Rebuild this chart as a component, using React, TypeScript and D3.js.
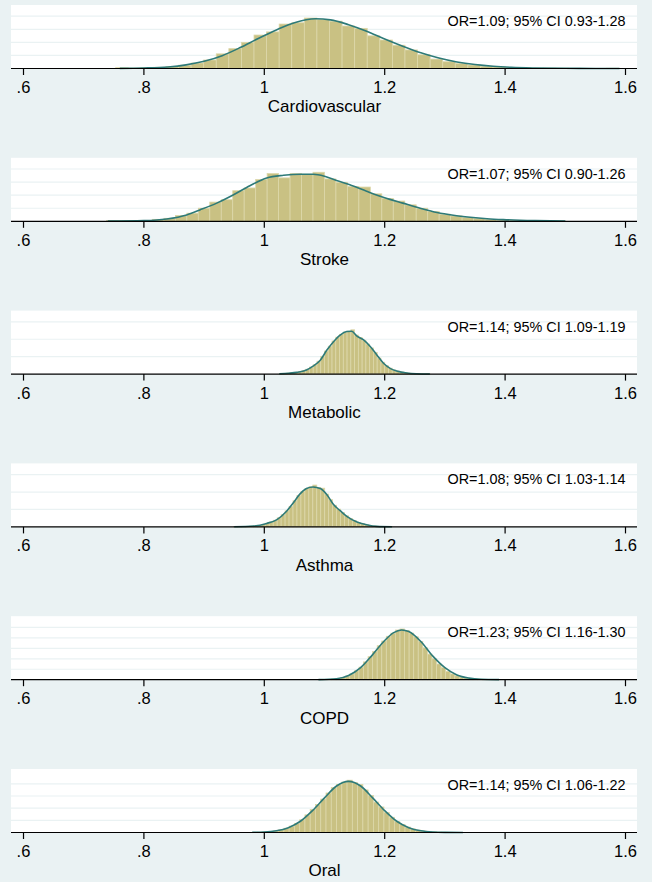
import React from "react";
import * as d3 from "d3";

// Panel titles and annotation text
const panelNames = ["Cardiovascular", "Stroke", "Metabolic", "Asthma", "COPD", "Oral"];
const orLabels = [
  "OR=1.09; 95% CI 0.93-1.28",
  "OR=1.07; 95% CI 0.90-1.26",
  "OR=1.14; 95% CI 1.09-1.19",
  "OR=1.08; 95% CI 1.03-1.14",
  "OR=1.23; 95% CI 1.16-1.30",
  "OR=1.14; 95% CI 1.06-1.22",
];

// Shared x axis
const xTicks = [0.6, 0.8, 1, 1.2, 1.4, 1.6];
const xTickLabels = [".6", ".8", "1", "1.2", "1.4", "1.6"];

// Histogram bins: first edge and width per panel (40 bins each)
const binStarts = [0.753, 0.738, 1.025, 0.949, 1.089, 0.98];
const binWidths = [0.0209, 0.01905, 0.00625, 0.00658, 0.00758, 0.00875];

// Density gridline ticks and top of y range per panel
const yTicks = [
  [0, 1, 2, 3, 4],
  [0, 1, 2, 3, 4],
  [0, 5, 10, 15],
  [0, 5, 10, 15],
  [0, 2, 4, 6, 8, 10],
  [0, 2, 4, 6, 8],
];
const yTops = [4, 4, 15, 15, 10, 8.6];

// Histogram densities
const cardioBars = [0.06, 0.03, 0.05, 0.09, 0.14, 0.25, 0.42, 0.65, 1.12, 1.52, 2.0, 2.56, 2.8, 3.4, 3.5, 3.86, 3.75, 3.62, 3.25, 3.07, 2.5, 2.18, 1.78, 1.42, 1.05, 0.72, 0.52, 0.38, 0.27, 0.17, 0.12, 0.07, 0.05, 0.03, 0.03, 0.02, 0.01, 0.0, 0.01, 0.02];
const strokeBars = [0.06, 0.05, 0.07, 0.05, 0.15, 0.23, 0.45, 0.62, 1.0, 1.47, 1.65, 2.34, 2.55, 3.19, 3.65, 3.32, 3.65, 3.6, 3.75, 3.24, 2.98, 2.67, 2.62, 2.1, 1.75, 1.55, 1.26, 1.0, 0.75, 0.54, 0.41, 0.28, 0.22, 0.14, 0.08, 0.05, 0.04, 0.03, 0.03, 0.02];
const metabolicBars = [0.1, 0.15, 0.27, 0.38, 0.5, 0.7, 1.0, 1.4, 2.0, 2.7, 3.7, 5.1, 6.6, 8.0, 9.5, 10.6, 11.4, 12.0, 12.3, 12.7, 11.2, 10.5, 9.7, 8.6, 7.5, 6.2, 4.6, 3.4, 2.4, 1.7, 1.15, 0.85, 0.6, 0.38, 0.25, 0.15, 0.1, 0.07, 0.05, 0.08];
const asthmaBars = [0.05, 0.05, 0.08, 0.12, 0.2, 0.3, 0.45, 0.7, 1.05, 1.4, 1.9, 2.6, 3.5, 4.6, 5.9, 7.5, 9.0, 10.2, 11.0, 11.5, 12.0, 11.3, 11.1, 9.4, 7.8, 6.2, 5.1, 4.1, 3.2, 2.4, 1.8, 1.25, 0.95, 0.65, 0.42, 0.25, 0.15, 0.1, 0.06, 0.05];
const copdBars = [0.03, 0.04, 0.06, 0.1, 0.2, 0.4, 0.7, 1.1, 1.7, 2.4, 3.4, 4.4, 5.4, 6.5, 7.4, 8.3, 8.9, 9.5, 9.7, 9.4, 8.9, 8.2, 7.3, 6.1, 4.9, 4.0, 3.0, 2.3, 1.6, 1.1, 0.75, 0.5, 0.32, 0.2, 0.13, 0.08, 0.05, 0.03, 0.03, 0.02];
const oralBars = [0.03, 0.04, 0.08, 0.15, 0.25, 0.42, 0.7, 1.05, 1.5, 2.1, 2.9, 3.8, 4.6, 5.5, 6.5, 7.4, 7.9, 8.3, 8.6, 8.2, 7.9, 7.0, 6.1, 5.0, 4.2, 3.3, 2.5, 1.8, 1.3, 0.9, 0.6, 0.38, 0.24, 0.15, 0.1, 0.06, 0.04, 0.03, 0.02, 0.02];

// Kernel density estimates as [OR, density] pairs
const cardioCurve = [[0.76, 0.01], [0.8, 0.04], [0.84, 0.12], [0.87, 0.28], [0.9, 0.55], [0.93, 0.98], [0.96, 1.6], [0.99, 2.3], [1.02, 2.95], [1.05, 3.5], [1.085, 3.8], [1.11, 3.72], [1.14, 3.35], [1.17, 2.85], [1.2, 2.25], [1.23, 1.7], [1.26, 1.2], [1.29, 0.8], [1.32, 0.5], [1.35, 0.3], [1.38, 0.17], [1.41, 0.09], [1.45, 0.04], [1.5, 0.015], [1.55, 0.005], [1.59, 0.0]];
const strokeCurve = [[0.74, 0.01], [0.8, 0.05], [0.838, 0.18], [0.871, 0.49], [0.893, 0.87], [0.921, 1.39], [0.949, 2.03], [0.976, 2.72], [1.004, 3.32], [1.032, 3.52], [1.06, 3.6], [1.081, 3.6], [1.1, 3.45], [1.12, 3.12], [1.142, 2.8], [1.17, 2.3], [1.2, 1.8], [1.23, 1.39], [1.259, 1.0], [1.287, 0.67], [1.314, 0.46], [1.342, 0.31], [1.37, 0.2], [1.397, 0.13], [1.45, 0.05], [1.5, 0.01]];
const metabolicCurve = [[1.025, 0.08], [1.04, 0.25], [1.054, 0.5], [1.07, 1.2], [1.081, 2.3], [1.093, 4.0], [1.104, 6.9], [1.115, 9.3], [1.126, 11.2], [1.137, 12.2], [1.145, 12.3], [1.154, 10.9], [1.165, 9.8], [1.176, 7.9], [1.187, 5.5], [1.198, 3.1], [1.209, 1.65], [1.22, 0.9], [1.237, 0.3], [1.253, 0.1], [1.275, 0.02]];
const asthmaCurve = [[0.95, 0.05], [0.982, 0.25], [1.004, 1.0], [1.021, 2.1], [1.037, 4.5], [1.048, 6.85], [1.059, 9.4], [1.07, 11.0], [1.081, 11.45], [1.093, 11.0], [1.104, 9.25], [1.115, 6.4], [1.126, 4.65], [1.137, 3.0], [1.154, 1.4], [1.17, 0.64], [1.187, 0.16], [1.212, 0.03]];
const copdCurve = [[1.09, 0.02], [1.12, 0.18], [1.14, 0.8], [1.16, 2.3], [1.18, 4.8], [1.2, 7.5], [1.215, 9.0], [1.228, 9.5], [1.24, 9.2], [1.26, 7.3], [1.28, 4.5], [1.3, 2.3], [1.32, 0.9], [1.34, 0.3], [1.36, 0.08], [1.39, 0.02]];
const oralCurve = [[0.98, 0.03], [1.0, 0.08], [1.02, 0.28], [1.04, 0.8], [1.06, 1.85], [1.08, 3.6], [1.1, 5.7], [1.12, 7.65], [1.14, 8.4], [1.16, 7.65], [1.18, 5.7], [1.2, 3.6], [1.22, 1.85], [1.24, 0.8], [1.26, 0.28], [1.28, 0.08], [1.3, 0.02], [1.33, 0.0]];

const allBars = [cardioBars, strokeBars, metabolicBars, asthmaBars, copdBars, oralBars];
const allCurves = [cardioCurve, strokeCurve, metabolicCurve, asthmaCurve, copdCurve, oralCurve];

const W = 652;
const H = 882;
const BG = "#eaf2f3";
const GRID = "#eaf2f3";
const BAR_FILL = "#c9c183";
const BAR_STROKE = "#dcd7aa";
const LINE = "#2e7a78";
const FONT = "'Liberation Sans', Arial, Helvetica, sans-serif";

const plotLeft = 11;
const plotRight = 637;
const firstAxisY = 68.5;
const panelStep = 152.8;
const axisToTopTick = 52.3;
const axisToPlotTop = 63.5;

const x = d3.scaleLinear().domain([0.6, 1.6]).range([23.5, 625.5]);

function Panel({ i }: { i: number }) {
  const axisY = firstAxisY + panelStep * i;
  const top = axisY - axisToPlotTop;
  const y = d3.scaleLinear().domain([0, yTops[i]]).range([axisY, axisY - axisToTopTick]);
  const bars = allBars[i];
  const curve = allCurves[i];
  const line = d3
    .line<number[]>()
    .x((d) => x(d[0]))
    .y((d) => y(d[1]))
    .curve(d3.curveMonotoneX);

  return (
    <g>
      <rect x={plotLeft} y={top} width={plotRight - plotLeft} height={axisToPlotTop} fill="#fff" />
      {yTicks[i]
        .filter((t) => t > 0)
        .map((t) => (
          <line key={t} x1={plotLeft} x2={plotRight} y1={y(t)} y2={y(t)} stroke={GRID} strokeWidth={1.2} />
        ))}
      {bars.map((v, j) => {
        const x0 = x(binStarts[i] + binWidths[i] * j);
        const x1 = x(binStarts[i] + binWidths[i] * (j + 1));
        return (
          <rect
            key={j}
            x={x0}
            y={y(v)}
            width={Math.max(0, x1 - x0)}
            height={Math.max(0, axisY - y(v))}
            fill={BAR_FILL}
            stroke={BAR_STROKE}
            strokeWidth={0.8}
          />
        );
      })}
      <path d={line(curve) || ""} fill="none" stroke={LINE} strokeWidth={1.6} />
      <line x1={plotLeft} x2={plotRight} y1={axisY} y2={axisY} stroke="#000" strokeWidth={1.2} />
      {xTicks.map((t, k) => (
        <g key={t}>
          <line x1={x(t)} x2={x(t)} y1={axisY} y2={axisY + 6.5} stroke="#000" strokeWidth={1.2} />
          <text x={x(t)} y={axisY + 24.4} textAnchor="middle" fontSize={16.5} fontFamily={FONT} fill="#000">
            {xTickLabels[k]}
          </text>
        </g>
      ))}
      <text x={x(1.6)} y={top + 21} textAnchor="end" fontSize={14.4} fontFamily={FONT} fill="#000">
        {orLabels[i]}
      </text>
      <text x={x(1.1)} y={axisY + 43.8} textAnchor="middle" fontSize={17} fontFamily={FONT} fill="#000">
        {panelNames[i]}
      </text>
    </g>
  );
}

export default function App() {
  return (
    <svg
      width={W}
      height={H}
      viewBox={`0 0 ${W} ${H}`}
      style={{ position: "absolute", left: 0, top: 0, display: "block" }}
    >
      <rect x={0} y={0} width={W} height={H} fill={BG} />
      {panelNames.map((_, i) => (
        <Panel key={i} i={i} />
      ))}
    </svg>
  );
}
